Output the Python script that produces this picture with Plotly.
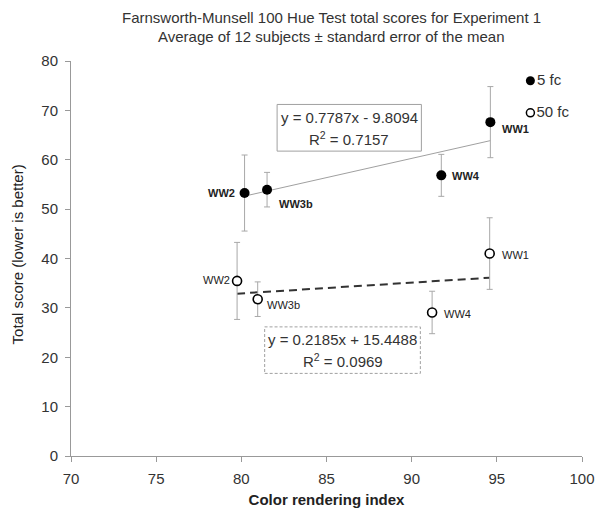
import plotly.graph_objects as go

# ---------------- data ----------------
labels = ["WW2", "WW3b", "WW4", "WW1"]
cri_5fc = [80.19, 81.51, 91.74, 94.62]
score_5fc = [53.26, 53.94, 56.84, 67.62]
err_5fc = [7.7, 3.5, 4.25, 7.2]

cri_50fc = [79.75, 80.96, 91.20, 94.58]
score_50fc = [35.46, 31.76, 29.07, 41.0]
err_50fc = [7.8, 3.5, 4.3, 7.25]

fit_5fc = (0.7787, -9.8094, 0.7157)
fit_50fc = (0.2185, 15.4488, 0.0969)

legend_names = ["5 fc", "50 fc"]
legend_x = [96.97, 96.97]
legend_y = [76.0, 69.5]

x_ticks = [70, 75, 80, 85, 90, 95, 100]
y_ticks = [0, 10, 20, 30, 40, 50, 60, 70, 80]

FONT = "Arial, 'Liberation Sans', sans-serif"
TXT = "#333333"

fig = go.Figure()

# trend lines
def line_pts(xs, fit):
    x0, x1 = min(xs), max(xs)
    return [x0, x1], [fit[0] * x0 + fit[1], fit[0] * x1 + fit[1]]

lx, ly = line_pts(cri_5fc, fit_5fc)
fig.add_trace(go.Scatter(x=lx, y=ly, mode="lines",
                         line=dict(color="#a0a0a0", width=1), showlegend=False))
lx, ly = line_pts(cri_50fc, fit_50fc)
fig.add_trace(go.Scatter(x=lx, y=ly, mode="lines",
                         line=dict(color="#333333", width=2, dash="8px,5px"), showlegend=False))

# data points with error bars
fig.add_trace(go.Scatter(
    x=cri_5fc, y=score_5fc, mode="markers",
    marker=dict(color="black", size=10, symbol="circle"),
    error_y=dict(type="data", array=err_5fc, color="#a8a8a8", thickness=1, width=3),
    showlegend=False))
fig.add_trace(go.Scatter(
    x=cri_50fc, y=score_50fc, mode="markers",
    marker=dict(color="white", size=9, symbol="circle", line=dict(color="black", width=1.6)),
    error_y=dict(type="data", array=err_50fc, color="#a8a8a8", thickness=1, width=3),
    showlegend=False))

# legend (drawn inside the plot area)
fig.add_trace(go.Scatter(
    x=legend_x[:1], y=legend_y[:1], mode="markers+text", text=[legend_names[0]],
    textposition="middle right", textfont=dict(size=15, color=TXT, family=FONT),
    marker=dict(color="black", size=9), showlegend=False))
fig.add_trace(go.Scatter(
    x=legend_x[1:], y=legend_y[1:], mode="markers+text", text=[legend_names[1]],
    textposition="middle right", textfont=dict(size=15, color=TXT, family=FONT),
    marker=dict(color="white", size=8, line=dict(color="black", width=1.5)), showlegend=False))

annotations = []
# point labels: (xanchor, xshift, yshift)
pos_5 = {"WW2": ("right", -8, 0), "WW3b": ("left", 10, -14),
         "WW4": ("left", 9, -1), "WW1": ("left", 10, -7)}
pos_50 = {"WW2": ("right", -5, 1), "WW3b": ("left", 7, -6),
          "WW4": ("left", 10, -2), "WW1": ("left", 10, -1)}
for name, x, y in zip(labels, cri_5fc, score_5fc):
    xa, xs, ys = pos_5[name]
    annotations.append(dict(x=x, y=y, text="<b>" + name + "</b>", showarrow=False,
                            xanchor=xa, yanchor="middle", xshift=xs, yshift=ys,
                            font=dict(size=11, color="#222222", family=FONT)))
for name, x, y in zip(labels, cri_50fc, score_50fc):
    xa, xs, ys = pos_50[name]
    annotations.append(dict(x=x, y=y, text=name, showarrow=False,
                            xanchor=xa, yanchor="middle", xshift=xs, yshift=ys,
                            font=dict(size=11, color="#222222", family=FONT)))

# equation boxes
def eq_texts(fit):
    sign = "-" if fit[1] < 0 else "+"
    return ("y = %.4fx %s %.4f" % (fit[0], sign, abs(fit[1])),
            "R<sup>2</sup> = %.4f" % fit[2])

box5 = dict(x0=82.10, x1=90.57, y0=61.75, y1=71.2)
box50 = dict(x0=81.37, x1=90.51, y0=16.73, y1=26.15)
shapes = [
    dict(type="rect", xref="x", yref="y", **box5,
         line=dict(color="#a0a0a0", width=1), fillcolor="white", layer="below"),
    dict(type="rect", xref="x", yref="y", **box50,
         line=dict(color="#a0a0a0", width=1, dash="3px,2px"), fillcolor="white", layer="below"),
]
for box, fit in ((box5, fit_5fc), (box50, fit_50fc)):
    t1, t2 = eq_texts(fit)
    cx = (box["x0"] + box["x1"]) / 2
    h = box["y1"] - box["y0"]
    annotations.append(dict(x=cx, y=box["y0"] + h * 0.72, text=t1, showarrow=False,
                            xanchor="center", yanchor="middle",
                            font=dict(size=15, color=TXT, family=FONT)))
    annotations.append(dict(x=cx, y=box["y0"] + h * 0.28, text=t2, showarrow=False,
                            xanchor="center", yanchor="middle",
                            font=dict(size=15, color=TXT, family=FONT)))

# title lines
annotations.append(dict(xref="paper", yref="paper", x=0.509, y=1.109,
                        text="Farnsworth-Munsell 100 Hue Test total scores for Experiment 1",
                        showarrow=False, xanchor="center", yanchor="middle",
                        font=dict(size=15, color=TXT, family=FONT)))
annotations.append(dict(xref="paper", yref="paper", x=0.509, y=1.061,
                        text="Average of 12 subjects ± standard error of the mean",
                        showarrow=False, xanchor="center", yanchor="middle",
                        font=dict(size=15, color=TXT, family=FONT)))
# y-axis title
annotations.append(dict(xref="paper", yref="paper", x=-0.104, y=0.51,
                        text="Total score (lower is better)", textangle=-90,
                        showarrow=False, xanchor="center", yanchor="middle",
                        font=dict(size=15, color="#222222", family=FONT)))

fig.update_layout(
    width=597, height=518, autosize=False,
    margin=dict(l=71, r=15, t=61, b=62),
    paper_bgcolor="white", plot_bgcolor="white",
    font=dict(family=FONT, color=TXT, size=15),
    showlegend=False,
    annotations=annotations, shapes=shapes,
    xaxis=dict(range=[70, 100], tickvals=x_ticks, showgrid=False, zeroline=False,
               automargin=False,
               showline=True, linecolor="#999999", linewidth=1,
               ticks="outside", ticklen=5, tickcolor="#999999",
               ticklabelstandoff=4,
               tickfont=dict(size=15, color=TXT),
               title=dict(text="<b>Color rendering index</b>", standoff=8,
                          font=dict(size=15, color="#222222"))),
    yaxis=dict(range=[0, 80], tickvals=y_ticks, showgrid=False, zeroline=False,
               automargin=False,
               showline=True, linecolor="#999999", linewidth=1,
               ticks="outside", ticklen=5, tickcolor="#999999",
               ticklabelstandoff=4,
               tickfont=dict(size=15, color=TXT)),
)

fig.write_html(
    "out.html",
    config={"displayModeBar": False, "responsive": False},
    post_script=("document.body.style.margin='0';"
                 "document.body.style.overflow='hidden';"
                 "Plotly.relayout('{plot_id}', {width: 597, height: 518});"),
)
